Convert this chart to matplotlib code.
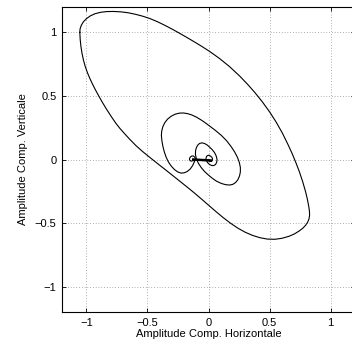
import matplotlib
matplotlib.use("Agg")
import matplotlib.pyplot as plt

# ---------------- values (data units) ----------------
# outer loop (closed)
big_x = [-1.054, -1.052, -1.042, -1.025, -1.000, -0.968, -0.930, -0.885, -0.835,
         -0.780, -0.720, -0.660, -0.600, -0.540, -0.480, -0.420, -0.360, -0.300,
         -0.240, -0.180, -0.120, -0.060, 0.010, 0.090, 0.170, 0.255, 0.320, 0.378,
         0.440, 0.501, 0.555, 0.605, 0.650, 0.685, 0.715, 0.745, 0.772, 0.795,
         0.810, 0.821, 0.827, 0.828, 0.823, 0.812, 0.795, 0.772, 0.742, 0.705,
         0.660, 0.602, 0.542, 0.480, 0.420, 0.360, 0.300, 0.240, 0.180, 0.120,
         0.060, 0.000, -0.060, -0.120, -0.180, -0.240, -0.300, -0.360, -0.420,
         -0.480, -0.540, -0.595, -0.645, -0.690, -0.725, -0.758, -0.800, -0.838,
         -0.870, -0.896, -0.925, -0.950, -0.972, -0.992, -1.010, -1.024, -1.036,
         -1.045, -1.051, -1.054]
big_y = [1.000, 1.027, 1.056, 1.083, 1.108, 1.130, 1.147, 1.158, 1.164,
         1.165, 1.162, 1.155, 1.143, 1.128, 1.109, 1.085, 1.057, 1.027,
         0.995, 0.962, 0.928, 0.893, 0.850, 0.795, 0.733, 0.657, 0.592, 0.529,
         0.455, 0.374, 0.293, 0.208, 0.120, 0.047, -0.023, -0.098, -0.176, -0.253,
         -0.313, -0.368, -0.408, -0.440, -0.468, -0.494, -0.518, -0.541, -0.563, -0.585,
         -0.604, -0.620, -0.628, -0.626, -0.615, -0.597, -0.572, -0.540, -0.501, -0.457,
         -0.409, -0.359, -0.309, -0.260, -0.213, -0.167, -0.121, -0.075, -0.030,
         0.016, 0.063, 0.110, 0.159, 0.206, 0.244, 0.284, 0.343, 0.400,
         0.451, 0.495, 0.546, 0.593, 0.638, 0.684, 0.733, 0.781, 0.835,
         0.890, 0.945, 1.000]

# middle loop spiralling into the origin
mid_x = [-0.115, -0.130, -0.150, -0.175, -0.200, -0.225, -0.252, -0.280, -0.305,
         -0.328, -0.347, -0.362, -0.374, -0.382, -0.386, -0.383, -0.374, -0.358,
         -0.335, -0.305, -0.272, -0.238, -0.205, -0.172, -0.138, -0.100, -0.050,
         0.000, 0.055, 0.105, 0.148, 0.185, 0.215, 0.238, 0.253, 0.261, 0.261,
         0.254, 0.240, 0.221, 0.198, 0.172, 0.140, 0.107, 0.068, 0.033, 0.000,
         -0.033, -0.060, -0.082, -0.099, -0.107, -0.106, -0.099, -0.088, -0.074,
         -0.053, -0.033, -0.012, 0.008, 0.030, 0.049, 0.063, 0.070, 0.067, 0.058,
         0.042, 0.025, 0.007, -0.008, -0.018, -0.021, -0.016, -0.008, 0.004,
         0.016, 0.028, 0.033, 0.029, 0.021, 0.010, 0.000, 0.004]
mid_y = [-0.016, -0.048, -0.075, -0.095, -0.105, -0.107, -0.098, -0.078, -0.052,
         -0.020, 0.018, 0.060, 0.105, 0.150, 0.190, 0.225, 0.258, 0.290,
         0.318, 0.341, 0.357, 0.365, 0.366, 0.361, 0.351, 0.334, 0.305,
         0.270, 0.230, 0.190, 0.148, 0.102, 0.058, 0.015, -0.025, -0.063, -0.098,
         -0.130, -0.160, -0.182, -0.196, -0.201, -0.198, -0.189, -0.172, -0.149, -0.123,
         -0.094, -0.063, -0.031, 0.005, 0.039, 0.070, 0.094, 0.113, 0.126,
         0.131, 0.126, 0.115, 0.098, 0.078, 0.055, 0.028, 0.000, -0.022, -0.039,
         -0.048, -0.047, -0.038, -0.024, -0.008, 0.008, 0.024, 0.031, 0.034,
         0.027, 0.017, 0.004, -0.010, -0.016, -0.014, -0.008, 0.000]

# small loop left of the origin
small_x = [-0.115, -0.107, -0.112, -0.123, -0.135, -0.146, -0.154, -0.156, -0.150,
           -0.140, -0.128, -0.118]
small_y = [-0.016, 0.004, 0.018, 0.027, 0.028, 0.022, 0.012, 0.000, -0.010,
           -0.013, -0.009, -0.003]

# short horizontal stroke
line_x = [-0.125, 0.020]
line_y = [0.000, -0.008]

ticks = [-1, -0.5, 0, 0.5, 1]
tick_labels = ["\u22121", "\u22120.5", "0", "0.5", "1"]

plt.rcParams['font.family'] = ['Liberation Sans', 'DejaVu Sans']

fig = plt.figure(figsize=(3.52, 3.51), dpi=100)
ax = fig.add_axes([62 / 352, 39 / 351, 293 / 352, 305 / 351])

ax.plot(big_x, big_y, color='black', lw=0.8)
ax.plot(mid_x, mid_y, color='black', lw=0.8)
ax.plot(small_x, small_y, color='black', lw=0.8)
ax.plot(line_x, line_y, color='black', lw=1.8)

ax.set_xlim(-1.2, 1.2)
ax.set_ylim(-1.2, 1.2)
ax.set_xticks(ticks)
ax.set_yticks(ticks)
ax.set_xticklabels(tick_labels)
ax.set_yticklabels(tick_labels)
ax.tick_params(direction='in', length=3, width=0.6, top=True, right=True,
               labelsize=8, pad=4)
ax.grid(True, color='0.4', linestyle=(0, (1, 3)), linewidth=0.5)
for s in ax.spines.values():
    s.set_linewidth(0.8)

ax.set_xlabel("Amplitude Comp. Horizontale", fontsize=8, labelpad=1)
ax.set_ylabel("Amplitude Comp. Verticale", fontsize=8, labelpad=5)

fig.savefig("out.png", dpi=100)
